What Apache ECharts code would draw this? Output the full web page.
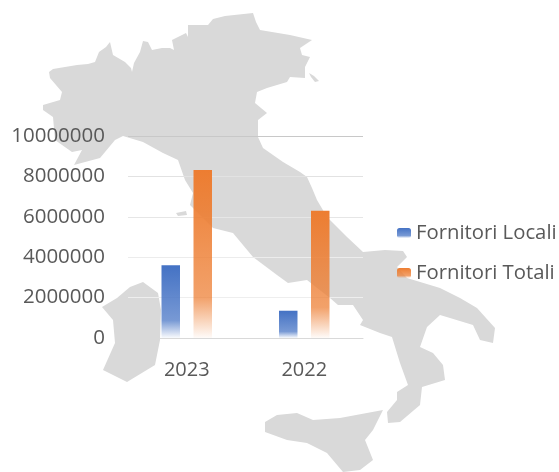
<!DOCTYPE html>
<html>
<head>
<meta charset="utf-8">
<style>html,body{margin:0;padding:0;background:#fff}#c{width:559px;height:472px}</style>
<script src="https://cdn.jsdelivr.net/npm/echarts@6/dist/echarts.min.js"></script>
</head>
<body>
<div id="c"></div>
<script>
const categories = ['2023', '2022'];
const fornitoriLocali = [3600000, 1350000];
const fornitoriTotali = [8320000, 6300000];

// Decorative backdrop: outline of Italy
const mainland = [[49,72],[53,69],[65,67],[77,65],[88,64],[95,62],[99,52],[106,47],[110,42],[113,55],[125,62],[131,68],[132,72],[134,63],[140,52],[143,41],[148,42],[152,50],[162,48],[170,48],[174,50],[172,40],[180,36],[186,33],[188,37],[188,25],[208,25],[213,19],[225,16],[253,13],[256,22],[260,30],[290,35],[312,40],[300,48],[302,55],[310,57],[305,67],[305,78],[290,77],[287,82],[267,88],[257,92],[255,103],[267,113],[258,120],[258,137],[263,148],[283,162],[300,172],[307,177],[312,188],[317,200],[327,217],[347,237],[363,252],[385,250],[403,251],[407,257],[397,267],[407,278],[440,288],[460,298],[477,308],[495,328],[493,343],[480,340],[473,325],[450,318],[440,315],[427,327],[420,347],[433,353],[443,365],[445,380],[422,387],[420,405],[400,422],[388,423],[387,412],[397,400],[397,392],[408,385],[400,363],[392,337],[380,333],[360,325],[363,320],[353,305],[338,305],[330,298],[307,280],[288,283],[277,275],[253,257],[233,233],[213,228],[190,205],[193,193],[185,180],[178,160],[163,153],[143,142],[123,136],[115,140],[100,158],[74,165],[82,150],[72,152],[55,140],[53,117],[43,110],[43,105],[60,100],[62,92],[50,78]];
const sardinia = [[143,282],[158,293],[161,310],[160,340],[155,365],[127,382],[103,370],[115,343],[113,320],[102,307],[117,298],[130,287]];
const sicily = [[265,422],[277,415],[297,413],[313,420],[340,418],[383,410],[373,430],[365,440],[373,460],[360,470],[343,472],[327,453],[307,443],[287,440],[265,432]];
const elba = [[176,213],[186,211],[187,215],[178,216]];
const istria = [[309,73],[314,76],[319,81],[315,82],[311,77]];

const gridColors = ['#dcdcdc', '#eeeeee', '#ececec', '#e6e6e6', '#e2e2e2', '#c8c8c8'];

function fade(r, g, b) {
  return {
    type: 'linear', x: 0, y: 0, x2: 0, y2: 1,
    colorStops: [
      {offset: 0, color: `rgba(${r},${g},${b},1)`},
      {offset: 0.76, color: `rgba(${r},${g},${b},0.72)`},
      {offset: 1, color: `rgba(${r},${g},${b},0.03)`}
    ]
  };
}
const mapShape = pts => ({type: 'polygon', silent: true, z: -1, shape: {points: pts}, style: {fill: '#d9d9d9'}});

const chart = echarts.init(document.getElementById('c'), null, {renderer: 'canvas'});
chart.setOption({
  animation: false,
  backgroundColor: '#fff',
  textStyle: {fontFamily: '"Open Sans"'},
  graphic: {elements: [mainland, sardinia, sicily, elba, istria].map(mapShape)},
  grid: {left: 128, right: 196, top: 136, bottom: 134},
  legend: {
    orient: 'vertical', left: 397, top: 223, itemWidth: 14, itemHeight: 10, itemGap: 20, padding: 0,
    textStyle: {fontSize: 20.3, color: '#595959', fontFamily: '"Open Sans"'},
    data: ['Fornitori Locali', 'Fornitori Totali']
  },
  xAxis: {
    type: 'category', data: categories,
    axisLine: {lineStyle: {color: '#d9d9d9', width: 1}}, axisTick: {show: false},
    axisLabel: {fontSize: 20, color: '#595959', margin: 22}
  },
  yAxis: {
    type: 'value', min: 0, max: 10000000, interval: 2000000,
    axisLine: {show: false}, axisTick: {show: false},
    axisLabel: {fontSize: 20.5, color: '#595959', margin: 23, formatter: v => String(v)},
    splitLine: {lineStyle: {color: gridColors, width: 1}}
  },
  series: [
    {name: 'Fornitori Locali', type: 'bar', data: fornitoriLocali, barWidth: 18.5, barGap: '73%', z: 2,
     itemStyle: {color: fade(68, 114, 196)}},
    {name: 'Fornitori Totali', type: 'bar', data: fornitoriTotali, barWidth: 18.5, z: 2,
     itemStyle: {color: fade(237, 125, 49)}}
  ]
});
</script>
</body>
</html>
